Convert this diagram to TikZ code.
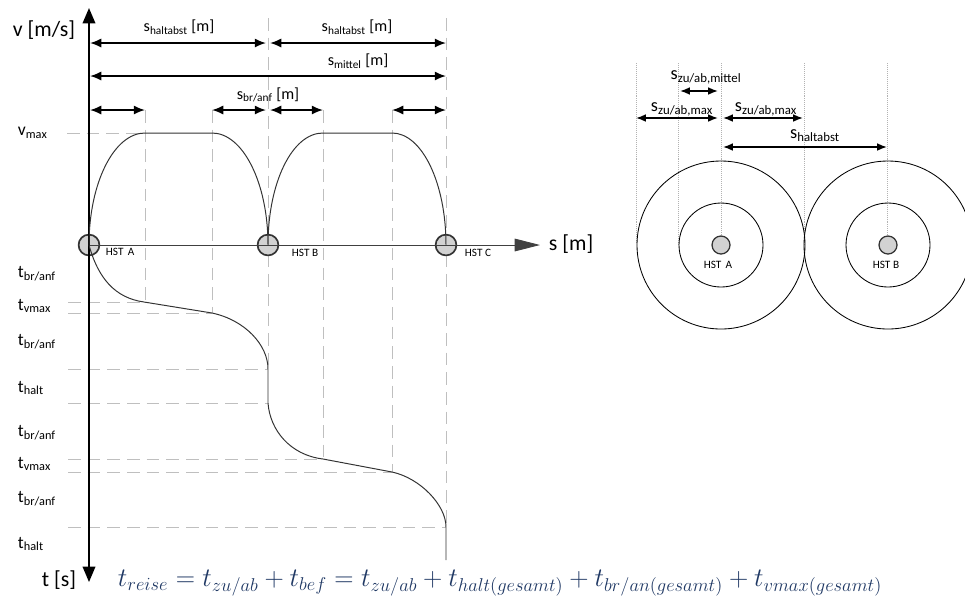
\documentclass[tikz,border=0pt]{standalone}
\usepackage{fontspec}
\setmainfont{Carlito}
\usepackage{tikz}
\usetikzlibrary{arrows.meta,calc,positioning}
\definecolor{formblue}{RGB}{31,56,100}
\tikzset{
  dimarr/.style={{Latex[length=8pt,width=6.5pt]}-{Latex[length=8pt,width=6.5pt]},line width=1.2pt},
  dimsmall/.style={{Latex[length=7pt,width=5.5pt]}-{Latex[length=7pt,width=5.5pt]},line width=1.1pt},
  guide/.style={gray!50,line width=0.6pt,dash pattern=on 9pt off 5pt},
  fineguide/.style={gray!60,line width=0.4pt,densely dotted},
  hst/.style={circle,draw=black!80,line width=1.2pt,fill=gray!35,inner sep=0pt,minimum size=0.52cm},
  hstlbl/.style={font=\fontsize{8}{9}\selectfont,anchor=west},
  tlbl/.style={font=\fontsize{12.5}{14}\selectfont,anchor=west},
  axlbl/.style={font=\fontsize{15.5}{17}\selectfont},
  toplbl/.style={font=\fontsize{11.5}{13}\selectfont},
  zlbl/.style={font=\fontsize{13}{15}\selectfont}
}

\begin{document}
\begin{tikzpicture}[x=0.025cm,y=-0.025cm,>=Stealth,line join=round]
\useasboundingbox (0,0) rectangle (965,608);
% --- guide lines
\foreach \x/\yb in {145/302,212/313,323/459,392/472} \draw[guide] (\x,110) -- (\x,\yb);
\foreach \x/\yb in {268/369,446/527} \draw[guide] (\x,18) -- (\x,\yb);
\draw[guide] (67,133) -- (145,133);
\foreach \y/\xe in {302/144,313/212,369/268,403/268,459/323,472/392,527/446} \draw[guide] (68,\y) -- (\xe,\y);
% --- stations
\node[hst] (hstA) at (89,245) {};
\node[hst] (hstB) at (268,245) {};
\node[hst] (hstC) at (446,245) {};
\node[hstlbl] at (101,252) {HST\, A};
\node[hstlbl] at (287,253) {HST B};
\node[hstlbl] at (460,253) {HST C};
% --- axes
\coordinate (sEnd) at (540,245);
\draw[black!75,line width=0.6pt,-{Triangle[length=18pt,width=9pt]}] (hstA.center) -- (sEnd);
\node[axlbl,anchor=west] (sLbl) at (544,244) {s [m]};
\coordinate (vTop) at (89,8);
\coordinate (tBot) at (89,582);
\draw[line width=1.3pt,-{Triangle[length=11pt,width=9pt]}] (89,250) -- (vTop);
\draw[line width=1.3pt,-{Triangle[length=11pt,width=9pt]}] (89,240) -- (tBot);
\node[axlbl,anchor=east] (vLbl) at (80,30) {v [m/s]};
\node[axlbl,anchor=east] (tLbl) at (81,580) {t [s]};
% --- dimension arrows
\draw[dimarr] (90,43) -- (266,43);
\draw[dimarr] (270,43) -- (446,43);
\draw[dimarr] (90,76) -- (446,76);
\draw[dimarr] (90,110) -- (145,110);
\draw[dimarr] (212,110) -- (266,110);
\draw[dimarr] (270,110) -- (323,110);
\draw[dimarr] (392,110) -- (446,110);
\node[toplbl] (hab1) at (179,27) {s\textsubscript{haltabst} [m]};
\node[toplbl] (hab2) at (357,27) {s\textsubscript{haltabst} [m]};
\node[toplbl] (mit) at (358,61) {s\textsubscript{mittel} [m]};
\node[toplbl] (bra) at (268,95) {s\textsubscript{br/anf} [m]};
% --- v(s)
\draw[line width=0.7pt,black!80] (hstA.center) .. controls (89,183) and (114,133) .. (145,133) -- (212,133)
  .. controls (243,133) and (268,183) .. (hstB.center)
  .. controls (268,183) and (292,133) .. (323,133) -- (392,133)
  .. controls (422,133) and (446,183) .. (hstC.center);
% --- t(s)
\draw[line width=0.7pt,black!80] (hstA.center) .. controls (98,278) and (115,298) .. (144,302) -- (212,313)
  .. controls (245,320) and (268,345) .. (268,369) -- (268,403)
  .. controls (270,430) and (290,455) .. (323,459) -- (392,472)
  .. controls (420,478) and (446,505) .. (446,527) -- (446,560);
% --- labels left
\node[tlbl] (vmax) at (13,133) {v\textsubscript{max}};
\node[tlbl] (t1) at (13,274) {t\textsubscript{br/anf}};
\node[tlbl] (t2) at (13,306) {t\textsubscript{vmax}};
\node[tlbl] (t3) at (13,342) {t\textsubscript{br/anf}};
\node[tlbl] (t4) at (13,388) {t\textsubscript{halt}};
\node[tlbl] (t5) at (13,433) {t\textsubscript{br/anf}};
\node[tlbl] (t6) at (13,464) {t\textsubscript{vmax}};
\node[tlbl] (t7) at (13,499) {t\textsubscript{br/anf}};
\node[tlbl] (t8) at (13,544) {t\textsubscript{halt}};
% --- catchment areas
\foreach \x/\yb in {636/243,678/245,721/236,804/245,887/236} \draw[fineguide] (\x,63) -- (\x,\yb);
\draw[line width=0.6pt] (721,245) circle[radius=84] (721,245) circle[radius=42];
\draw[line width=0.6pt] (888,245) circle[radius=84] (888,245) circle[radius=42];
\node[hst,minimum size=0.45cm,line width=0.9pt] (zA) at (721,245) {};
\node[hst,minimum size=0.45cm,line width=0.9pt] (zB) at (888,245) {};
\node[font=\fontsize{8}{9}\selectfont] at (718,265) {HST\, A};
\node[font=\fontsize{8}{9}\selectfont] at (886,265) {HST B};
\draw[dimsmall] (680,91) -- (718,91);
\draw[dimsmall] (636,118) -- (718,118);
\draw[dimsmall] (723,118) -- (803,118);
\draw[dimsmall] (723,147) -- (887,147);
\node[zlbl] (zmit) at (706,77) {s\textsubscript{zu/ab,mittel}};
\node[zlbl] (zmax1) at (682,109) {s\textsubscript{zu/ab,max}};
\node[zlbl] (zmax2) at (766,109) {s\textsubscript{zu/ab,max}};
\node[zlbl] (zhab) at (815,136) {s\textsubscript{haltabst}};
% --- formula
\node[text=formblue,inner sep=0pt,font=\fontsize{18.5}{21}\selectfont] (form) at (500,583)
  {\resizebox{19.1cm}{!}{$t_{reise}=t_{zu/ab}+t_{bef}=t_{zu/ab}+t_{halt(gesamt)}+t_{br/an(gesamt)}+t_{vmax(gesamt)}$}};
\end{tikzpicture}
\end{document}
